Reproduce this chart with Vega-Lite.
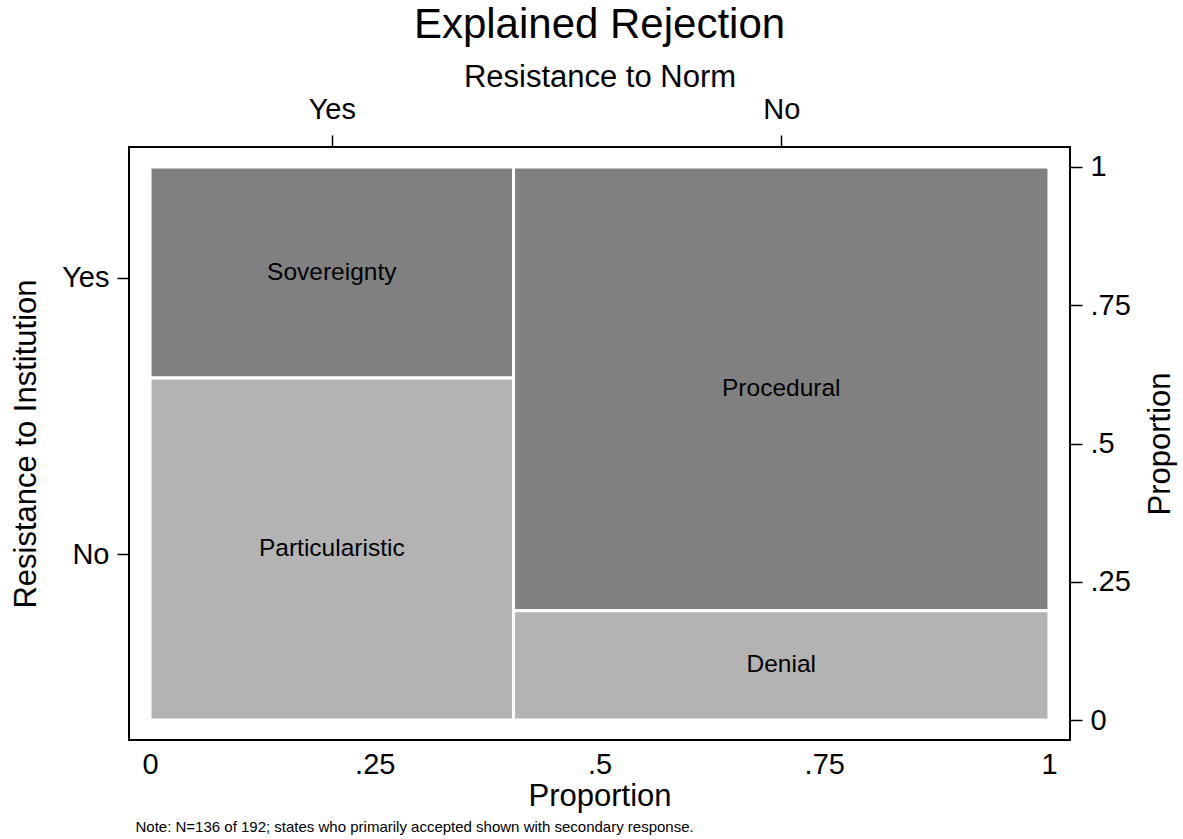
{
  "$schema": "https://vega.github.io/schema/vega-lite/v6.json",
  "autosize": {"type": "none"},
  "width": 941,
  "height": 593,
  "padding": {"left": 129, "top": 147, "right": 113, "bottom": 99},
  "background": "white",
  "title": {"text": "Explained Rejection", "fontSize": 42, "font": "Liberation Sans", "fontWeight": "normal", "color": "black", "anchor": "middle", "baseline": "alphabetic", "offset": -19},
  "config": {
    "view": {"stroke": "black", "strokeWidth": 2},
    "font": "Liberation Sans",
    "axis": {"domain": false, "grid": false, "labelFont": "Liberation Sans", "titleFont": "Liberation Sans", "labelColor": "black", "titleColor": "black", "tickColor": "black", "labelFontSize": 29, "titleFontSize": 31, "titleFontWeight": "normal", "tickSize": 12, "tickWidth": 1.5, "labelFlush": false, "labelOverlap": false}
  },
  "data": {"values": [
    {"response": "Sovereignty", "norm": "Yes", "institution": "Yes", "count": 21, "x0": 0, "x1": 0.4044, "y0": 0.6182, "y1": 1, "xmid": 0.2022, "ymid": 0.8091},
    {"response": "Particularistic", "norm": "Yes", "institution": "No", "count": 34, "x0": 0, "x1": 0.4044, "y0": 0, "y1": 0.6182, "xmid": 0.2022, "ymid": 0.3091},
    {"response": "Procedural", "norm": "No", "institution": "Yes", "count": 65, "x0": 0.4044, "x1": 1, "y0": 0.1975, "y1": 1, "xmid": 0.7022, "ymid": 0.5988},
    {"response": "Denial", "norm": "No", "institution": "No", "count": 16, "x0": 0.4044, "x1": 1, "y0": 0, "y1": 0.1975, "xmid": 0.7022, "ymid": 0.0988}
  ]},
  "layer": [
    {
      "mark": {"type": "rect", "stroke": "white", "strokeWidth": 3},
      "encoding": {
        "x": {"field": "x0", "type": "quantitative", "scale": {"domain": [-0.0234, 1.0234], "nice": false, "zero": false},
          "axis": {"orient": "bottom", "values": [0, 0.25, 0.5, 0.75, 1], "ticks": false, "tickSize": 0, "labelPadding": 10,
            "labelExpr": "datum.value == 0 ? '0' : datum.value == 1 ? '1' : slice(format(datum.value, '~g'), 1)",
            "title": "Proportion", "titleY": 65, "titleBaseline": "alphabetic"}},
        "x2": {"field": "x1"},
        "y": {"field": "y0", "type": "quantitative", "scale": {"domain": [-0.036, 1.036], "nice": false, "zero": false},
          "axis": {"orient": "left", "values": [0.8, 0.3], "labelExpr": "datum.value > 0.5 ? 'Yes' : 'No'", "labelPadding": 8,
            "title": "Resistance to Institution", "titleX": -94, "titleAngle": -90, "titleBaseline": "alphabetic"}},
        "y2": {"field": "y1"},
        "color": {"field": "institution", "type": "nominal", "scale": {"domain": ["Yes", "No"], "range": ["#808080", "#b3b3b3"]}, "legend": null}
      }
    },
    {
      "mark": {"type": "text", "fontSize": 24.5, "color": "black", "font": "Liberation Sans"},
      "encoding": {
        "x": {"field": "xmid", "type": "quantitative", "scale": {"domain": [-0.0234, 1.0234], "nice": false, "zero": false},
          "axis": {"orient": "top", "values": [0.2022, 0.7022], "labelExpr": "datum.value < 0.5 ? 'Yes' : 'No'", "labelPadding": 11,
            "title": "Resistance to Norm", "titleY": -61, "titleBaseline": "alphabetic"}},
        "y": {"field": "ymid", "type": "quantitative", "scale": {"domain": [-0.036, 1.036], "nice": false, "zero": false},
          "axis": {"orient": "right", "values": [0, 0.25, 0.5, 0.75, 1], "labelPadding": 8,
            "labelExpr": "datum.value == 0 ? '0' : datum.value == 1 ? '1' : slice(format(datum.value, '~g'), 1)",
            "title": "Proportion", "titleX": 99, "titleAngle": -90, "titleBaseline": "alphabetic"}},
        "text": {"field": "response"}
      }
    },
    {
      "mark": {"type": "rect", "opacity": 0},
      "encoding": {
        "x": {"field": "x0", "type": "quantitative", "scale": {"domain": [-0.0234, 1.0234], "nice": false, "zero": false},
          "axis": {"orient": "bottom", "labels": false, "ticks": false, "tickSize": 0,
            "title": "Note: N=136 of 192; states who primarily accepted shown with secondary response.",
            "titleFontSize": 15, "titleX": 6, "titleY": 91, "titleAnchor": "start", "titleAlign": "left", "titleBaseline": "alphabetic"}},
        "x2": {"field": "x1"},
        "y": {"field": "y0", "type": "quantitative", "scale": {"domain": [-0.036, 1.036], "nice": false, "zero": false}, "axis": null},
        "y2": {"field": "y1"}
      }
    }
  ],
  "resolve": {"axis": {"x": "independent", "y": "independent"}}
}
